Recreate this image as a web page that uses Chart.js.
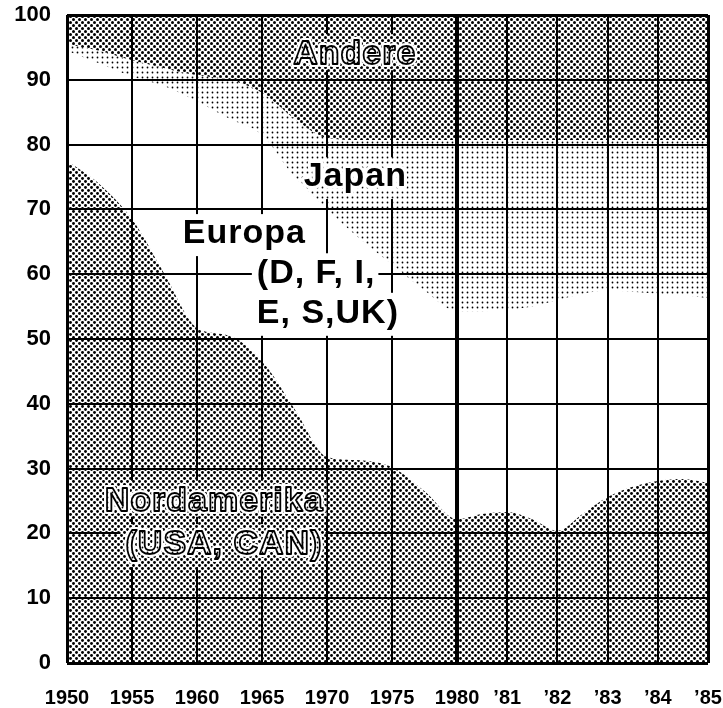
<!DOCTYPE html>
<html>
<head>
<meta charset="utf-8">
<script src="https://cdn.jsdelivr.net/npm/chart.js@4"></script>
<style>
  html, body { margin: 0; padding: 0; background: #fff; }
  canvas { display: block; }
</style>
</head>
<body>
<canvas id="canvas" width="723" height="708"></canvas>
<script>
// world car production by region, share in percent
const years = [1950, 1952.5, 1955, 1957.5, 1960, 1962.5, 1965, 1967.5, 1970, 1972.5, 1975, 1977.5,
  1980, 1980.5, 1981, 1981.5, 1982, 1982.5, 1983, 1983.5, 1984, 1984.5, 1985];
const nordamerika = [77.5, 73.9, 68.5, 60.0, 51.7, 50.5, 46.6, 39.2, 31.8, 31.3, 30.2, 26.5,
  22.2, 23.0, 23.3, 22.2, 20.4, 23.0, 25.6, 27.2, 28.1, 28.4, 27.8];
const europa = [17.0, 18.6, 22.0, 29.0, 35.0, 33.5, 34.9, 35.8, 38.2, 34.2, 31.3, 31.0,
  32.1, 31.3, 31.2, 32.8, 35.6, 34.0, 31.9, 30.1, 28.9, 28.4, 28.5];
const japan = [1.0, 2.0, 2.5, 2.8, 4.0, 6.0, 6.5, 9.0, 11.0, 15.2, 19.2, 23.2,
  26.4, 26.4, 26.2, 25.7, 24.7, 23.7, 23.2, 23.4, 23.7, 23.9, 24.4];
const andere = [4.5, 5.5, 7.0, 8.2, 9.3, 10.0, 12.0, 16.0, 19.0, 19.3, 19.3, 19.3,
  19.3, 19.3, 19.3, 19.3, 19.3, 19.3, 19.3, 19.3, 19.3, 19.3, 19.3];

const tickYears = [1950, 1955, 1960, 1965, 1970, 1975, 1980, 1981, 1982, 1983, 1984, 1985];
const tickLabels = ['1950', '1955', '1960', '1965', '1970', '1975', '1980', '\u201981', '\u201982', '\u201983', '\u201984', '\u201985'];

// axis is broken: five-year steps up to 1980, single years after
function pos(year) {
  return year <= 1980 ? (year - 1950) / 5 : 6 + (year - 1980) * 0.772;
}
const series = (vals) => vals.map((v, i) => ({ x: pos(years[i]), y: v }));

// halftone dots on a transparent tile so the grid shows through
function dots(size, pts, r) {
  const c = document.createElement('canvas');
  c.width = size; c.height = size;
  const g = c.getContext('2d');
  g.fillStyle = '#000';
  pts.forEach(([x, y]) => { g.beginPath(); g.arc(x, y, r, 0, Math.PI * 2); g.fill(); });
  return g.createPattern(c, 'repeat');
}
const ctx = document.getElementById('canvas').getContext('2d');
const patNord = dots(6, [[1.5, 1.5], [4.5, 4.5]], 1.45);
const patAndere = dots(6, [[1.5, 1.5], [4.5, 4.5]], 1.5);
const patJapan = dots(5, [[2.5, 2.5]], 0.9);

const labels = [
  { text: 'Andere', year: 1967.4, value: 92.4, outline: true },
  { text: 'Japan', year: 1968.2, value: 73.6 },
  { text: 'Europa', year: 1958.9, value: 64.8 },
  { text: '(D, F, I,', year: 1964.6, value: 58.6 },
  { text: 'E, S,UK)', year: 1964.6, value: 52.5 },
  { text: 'Nordamerika', year: 1952.9, value: 23.5, outline: true },
  { text: '(USA, CAN)', year: 1954.5, value: 16.8, outline: true },
];
const labelFont = 'bold 34px "Liberation Sans", Arial, sans-serif';

function setFont(c) {
  c.font = labelFont;
  c.letterSpacing = '1px';
  c.textBaseline = 'alphabetic';
  c.lineJoin = 'round';
}

const labelPlugin = {
  id: 'labels',
  // blank the grid under each label before the areas are filled
  beforeDatasetsDraw(chart) {
    const c = chart.ctx, xs = chart.scales.x, ys = chart.scales.y;
    c.save();
    setFont(c);
    c.fillStyle = '#fff';
    labels.forEach((l) => {
      const x = xs.getPixelForValue(pos(l.year));
      const y = ys.getPixelForValue(l.value);
      const m = c.measureText(l.text);
      c.fillRect(x - 5, y - m.actualBoundingBoxAscent - 6,
        m.width + 8, m.actualBoundingBoxAscent + m.actualBoundingBoxDescent + 12);
    });
    c.restore();
  },
  afterDraw(chart) {
    const c = chart.ctx, xs = chart.scales.x, ys = chart.scales.y;
    c.save();
    setFont(c);
    labels.forEach((l) => {
      const x = xs.getPixelForValue(pos(l.year));
      const y = ys.getPixelForValue(l.value);
      c.strokeStyle = '#fff';
      c.lineWidth = 6;
      c.strokeText(l.text, x, y);
      if (l.outline) {
        c.fillStyle = '#fff';
        c.fillText(l.text, x, y);
        c.fillStyle = patJapan;
        c.fillText(l.text, x, y);
        c.strokeStyle = '#000';
        c.lineWidth = 1.8;
        c.strokeText(l.text, x, y);
      } else {
        c.fillStyle = '#000';
        c.fillText(l.text, x, y);
      }
    });
    c.restore();
  }
};

const fontFamily = '"Liberation Sans", Arial, sans-serif';
const noLine = 'rgba(0,0,0,0)';

new Chart(ctx, {
  type: 'line',
  data: {
    datasets: [
      { label: 'Nordamerika (USA, CAN)', data: series(nordamerika), backgroundColor: patNord, borderColor: noLine, fill: 'origin' },
      { label: 'Europa (D, F, I, E, S, UK)', data: series(europa), backgroundColor: noLine, borderColor: noLine, fill: '-1' },
      { label: 'Japan', data: series(japan), backgroundColor: patJapan, borderColor: noLine, fill: '-1' },
      { label: 'Andere', data: series(andere), backgroundColor: patAndere, borderColor: noLine, fill: '-1' },
    ],
  },
  options: {
    responsive: false,
    animation: false,
    layout: { padding: { top: 15, right: 15, left: 0, bottom: 0 } },
    elements: {
      point: { radius: 0 },
      line: { borderWidth: 1, cubicInterpolationMode: 'monotone' },
    },
    scales: {
      x: {
        type: 'linear',
        min: 0,
        max: pos(1985),
        afterBuildTicks: (s) => { s.ticks = tickYears.map((y) => ({ value: pos(y) })); },
        afterFit: (s) => { s.height = 45; s.paddingLeft = 0; s.paddingRight = 0; },
        ticks: { color: '#000', font: { family: fontFamily, size: 20, weight: 'bold' }, padding: 23,
          maxRotation: 0, autoSkip: false, callback: (v, i) => tickLabels[i] },
        grid: {
          color: '#000',
          drawTicks: false,
          lineWidth: (c) => {
            if (c.tick && c.tick.value === pos(1980)) return 4;
            if (c.index === 0 || c.index === tickYears.length - 1) return 3;
            return 2;
          },
        },
        border: { display: false },
      },
      y: {
        stacked: true,
        min: 0,
        max: 100,
        afterFit: (s) => { s.width = 67; s.paddingTop = 0; s.paddingBottom = 0; },
        ticks: { stepSize: 10, color: '#000', font: { family: fontFamily, size: 22, weight: 'bold' }, padding: 16 },
        grid: {
          color: '#000',
          drawTicks: false,
          lineWidth: (c) => (c.index === 0 || c.index === 10 ? 3 : 2),
        },
        border: { display: false },
      },
    },
    plugins: {
      legend: { display: false },
      tooltip: { enabled: false },
    },
  },
  plugins: [labelPlugin],
});
</script>
</body>
</html>
